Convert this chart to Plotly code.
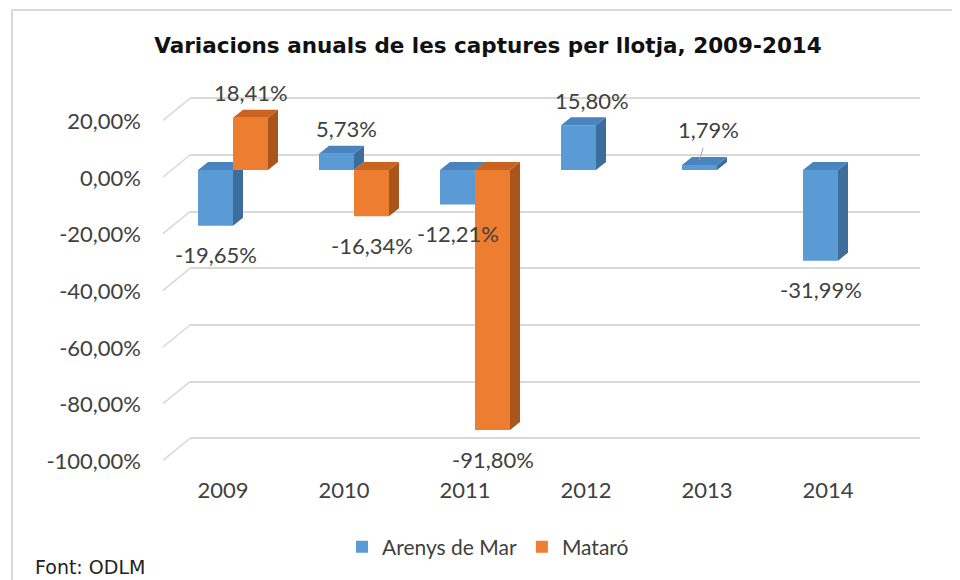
import plotly.graph_objects as go

# ---------------- data ----------------
years = ["2009", "2010", "2011", "2012", "2013", "2014"]
arenys = [-19.65, 5.73, -12.21, 15.80, 1.79, -31.99]
mataro = [18.41, -16.34, -91.80, None, None, None]
series_names = ["Arenys de Mar", "Mataró"]
y_tick_values = [20, 0, -20, -40, -60, -80, -100]
y_tick_labels = ["20,00%", "0,00%", "-20,00%", "-40,00%", "-60,00%", "-80,00%", "-100,00%"]
title_text = "Variacions anuals de les captures per llotja, 2009-2014"
source_text = "Font: ODLM"

# ---------------- geometry / style (page pixels) ----------------
OFF = 8                       # default body margin of the html page
W, H = 960 - OFF, 580 - OFF   # figure size
L, R, T, B = 190, 920, 80, 470   # plot area in page px
K = 2.833            # px per percentage point
BAR_ZERO_PX = 170
GRID_ZERO_PX = 155
FRONT_ZERO_PX = 178
SLOT_PX = 121
FIRST_CENTER_PX = 233
BAR_PX = 35
DEPTH_DX_PX, DEPTH_DY_PX = 10, 8
FRONT_LEFT_PX = 163

x0r = -(FIRST_CENTER_PX - L) / SLOT_PX
x_range = [x0r, x0r + (R - L) / SLOT_PX]
bar_range = [(BAR_ZERO_PX - B) / K, (BAR_ZERO_PX - T) / K]
grid_range = [(GRID_ZERO_PX - B) / K, (GRID_ZERO_PX - T) / K]
w = BAR_PX / SLOT_PX
dx = DEPTH_DX_PX / SLOT_PX
dy = DEPTH_DY_PX / K

COL = {
    0: dict(front="#5B9BD5", top="#4A84BE", side="#3C6D9B"),
    1: dict(front="#ED7D31", top="#C8641F", side="#A8561C"),
}
TXT = "#404040"
FONT = "Lato"
FS = 22


def px_x(p):
    return (p - L) / (R - L)


def px_y(p):
    return (B - p) / (B - T)


def faces(values, offset):
    sx, sy, tx, ty = [], [], [], []
    for i, v in enumerate(values):
        if v is None:
            continue
        xa = i + offset
        xb = xa + w
        lo, hi = min(0, v), max(0, v)
        sx += [xb, xb + dx, xb + dx, xb, xb, None]
        sy += [lo, lo + dy, hi + dy, hi, lo, None]
        tx += [xa, xa + dx, xb + dx, xb, xa, None]
        ty += [hi, hi + dy, hi + dy, hi, hi, None]
    return sx, sy, tx, ty


fig = go.Figure()

# dummy trace for the back-wall grid axis
fig.add_trace(go.Scatter(x=[0], y=[0], yaxis="y2", mode="markers", opacity=0,
                         showlegend=False, hoverinfo="skip"))

for s, (vals, offset, yax) in enumerate([(arenys, -w, "y"), (mataro, 0.0, "y3")]):
    sx, sy, tx, ty = faces(vals, offset)
    fig.add_trace(go.Scatter(x=sx, y=sy, yaxis=yax, fill="toself", mode="lines",
                             line=dict(width=0, color=COL[s]["side"]),
                             fillcolor=COL[s]["side"], showlegend=False, hoverinfo="skip"))
    fig.add_trace(go.Scatter(x=tx, y=ty, yaxis=yax, fill="toself", mode="lines",
                             line=dict(width=0, color=COL[s]["top"]),
                             fillcolor=COL[s]["top"], showlegend=False, hoverinfo="skip"))
    fig.add_trace(go.Bar(x=list(range(len(years))), y=vals, yaxis=yax, name=series_names[s],
                         width=w, offset=offset, marker=dict(color=COL[s]["front"], line=dict(width=0))))

# data labels
label_nudge = {(0, 1): 10, (0, 3): 13}
annotations = []
for s, (vals, offset, yref) in enumerate([(arenys, -w, "y"), (mataro, 0.0, "y3")]):
    for i, v in enumerate(vals):
        if v is None:
            continue
        txt = f"{v:.2f}".replace(".", ",") + "%"
        xc = i + offset + w / 2
        if abs(v) < 3:
            annotations.append(dict(x=xc, y=v, xref="x", yref=yref, text=txt, showarrow=True,
                                    arrowhead=0, arrowwidth=1, arrowcolor="#A6A6A6",
                                    ax=9, ay=-30, yshift=5, startstandoff=3,
                                    font=dict(family=FONT, size=FS, color=TXT)))
        else:
            annotations.append(dict(x=xc, y=v, xref="x", yref=yref, text=txt, showarrow=False,
                                    yanchor="middle", xanchor="center",
                                    xshift=label_nudge.get((s, i), 0),
                                    yshift=25 if v > 0 else -29,
                                    font=dict(family=FONT, size=FS, color=TXT)))

annotations.append(dict(x=px_x(33), y=px_y(567), xref="paper", yref="paper", text=source_text,
                        showarrow=False, xanchor="left", yanchor="middle",
                        font=dict(family="DejaVu Sans", size=19, color="#222222")))

shapes = []
depth_shift = (FRONT_ZERO_PX - 1 - GRID_ZERO_PX) / K
for v in y_tick_values:
    shapes.append(dict(type="line", xref="paper", yref="y2", x0=px_x(FRONT_LEFT_PX), y0=v - depth_shift,
                       x1=0, y1=v, line=dict(color="#D9D9D9", width=1.5), layer="below"))
# chart border
shapes.append(dict(type="line", xref="paper", yref="paper", x0=px_x(12), y0=px_y(10), x1=px_x(980), y1=px_y(10),
                   line=dict(color="#D9D9D9", width=2)))
shapes.append(dict(type="line", xref="paper", yref="paper", x0=px_x(12), y0=px_y(10), x1=px_x(12), y1=px_y(600),
                   line=dict(color="#D9D9D9", width=2)))

fig.update_layout(
    width=W, height=H,
    margin=dict(l=L - OFF, r=W - (R - OFF), t=T - OFF, b=H - (B - OFF), pad=0),
    paper_bgcolor="white", plot_bgcolor="white",
    barmode="overlay",
    title=dict(text=f"<b>{title_text}</b>", x=(488 - OFF) / W, xanchor="center", xref="container",
               y=1 - (45 - OFF) / H, yanchor="middle", yref="container",
               font=dict(family="DejaVu Sans", size=21.5, color="#111111")),
    xaxis=dict(range=x_range, tickvals=list(range(len(years))), ticktext=years,
               showgrid=False, zeroline=False, showline=False, ticks="",
               ticklabelshift=-10, ticklabelstandoff=5,
               tickfont=dict(family=FONT, size=FS, color=TXT), fixedrange=True),
    yaxis=dict(range=bar_range, tickvals=y_tick_values, ticktext=y_tick_labels,
               showgrid=False, zeroline=False, showline=False, ticks="",
               ticklabelshift=(FRONT_ZERO_PX - BAR_ZERO_PX), ticklabelstandoff=48,
               tickfont=dict(family=FONT, size=FS, color=TXT)),
    yaxis2=dict(range=grid_range, overlaying="y", tickvals=y_tick_values, showticklabels=False,
                showgrid=True, gridcolor="#D9D9D9", gridwidth=1.5, zeroline=False, showline=False),
    yaxis3=dict(range=bar_range, overlaying="y", showticklabels=False, showgrid=False,
                zeroline=False, showline=False),
    legend=dict(orientation="h", x=px_x(488), xanchor="center", y=px_y(547), yanchor="middle",
                font=dict(family=FONT, size=21, color=TXT), itemwidth=30, traceorder="normal"),
    annotations=annotations,
    shapes=shapes,
    showlegend=True,
)

fig.write_html("out.html")
